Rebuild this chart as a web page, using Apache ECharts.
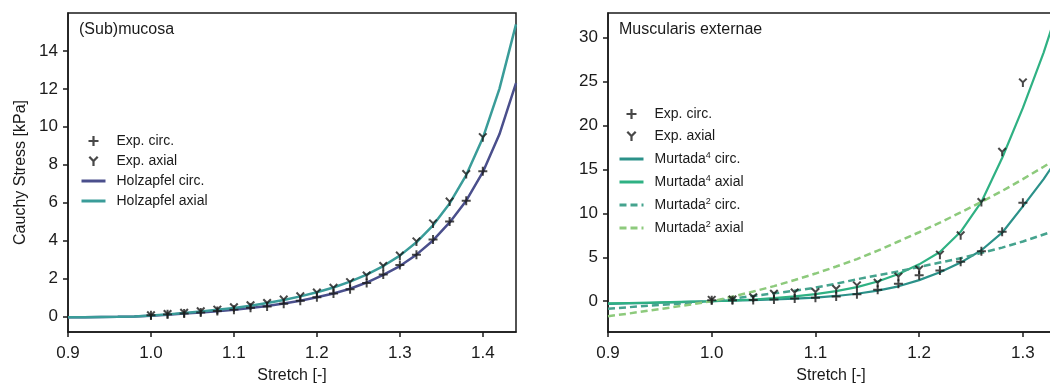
<!DOCTYPE html>
<html>
<head>
<meta charset="utf-8">
<script src="https://cdn.jsdelivr.net/npm/echarts@6/dist/echarts.min.js"></script>
<style>
  html, body { margin: 0; padding: 0; background: #fff; }
  #chart { width: 1050px; height: 384px; }
</style>
</head>
<body>
<div id="chart"></div>
<script>
// ---- data ----
// experimental stretch steps
const expStretchSub = [1.00, 1.02, 1.04, 1.06, 1.08, 1.10, 1.12, 1.14, 1.16, 1.18, 1.20,
  1.22, 1.24, 1.26, 1.28, 1.30, 1.32, 1.34, 1.36, 1.38, 1.40];
const subExpCirc = [0.05, 0.1, 0.15, 0.2, 0.28, 0.35, 0.45, 0.52, 0.66, 0.82, 1.0,
  1.2, 1.42, 1.75, 2.2, 2.7, 3.25, 4.05, 5.0, 6.1, 7.65];
const subExpAxial = [0.05, 0.12, 0.18, 0.26, 0.35, 0.47, 0.58, 0.7, 0.88, 1.05, 1.25,
  1.5, 1.8, 2.15, 2.65, 3.2, 3.95, 4.9, 6.05, 7.5, 9.45];

// model curves (left)
const fitStretchSub = [0.90, 0.92, 0.94, 0.96, 0.98, 1.00, 1.02, 1.04, 1.06, 1.08, 1.10, 1.12,
  1.14, 1.16, 1.18, 1.20, 1.22, 1.24, 1.26, 1.28, 1.30, 1.32, 1.34, 1.36, 1.38, 1.40, 1.42, 1.44];
const holzCirc = [-0.05, -0.05, -0.04, -0.03, -0.01, 0.03, 0.08, 0.14, 0.2, 0.27, 0.35, 0.44,
  0.54, 0.67, 0.82, 1.0, 1.2, 1.45, 1.78, 2.18, 2.65, 3.25, 4.0, 4.95, 6.1, 7.6, 9.6, 12.3];
const holzAxial = [-0.05, -0.05, -0.04, -0.03, -0.01, 0.04, 0.1, 0.17, 0.25, 0.34, 0.44, 0.56,
  0.7, 0.86, 1.05, 1.27, 1.52, 1.83, 2.2, 2.65, 3.2, 3.9, 4.8, 5.95, 7.45, 9.4, 12.0, 15.4];

// muscularis experiments
const expStretchMus = [1.00, 1.02, 1.04, 1.06, 1.08, 1.10, 1.12, 1.14, 1.16, 1.18, 1.20,
  1.22, 1.24, 1.26, 1.28, 1.30];
const musExpCirc = [0.1, 0.1, 0.15, 0.2, 0.3, 0.4, 0.55, 0.8, 1.3, 2.0, 2.95,
  3.5, 4.5, 5.7, 7.9, 11.2];
const musExpAxial = [0.15, 0.2, 0.45, 0.85, 1.0, 1.05, 1.4, 1.8, 2.1, 2.8, 3.6,
  5.3, 7.5, 11.3, 17.0, 24.9];

// model curves (right)
const fitStretchMus = [0.90, 0.92, 0.94, 0.96, 0.98, 1.00, 1.02, 1.04, 1.06, 1.08, 1.10, 1.12,
  1.14, 1.16, 1.18, 1.20, 1.22, 1.24, 1.26, 1.28, 1.30, 1.32, 1.34];
const murt4Circ = [-0.3, -0.25, -0.2, -0.14, -0.07, 0.0, 0.06, 0.12, 0.2, 0.3, 0.42, 0.6,
  0.85, 1.2, 1.7, 2.4, 3.3, 4.4, 5.8, 7.8, 10.8, 13.9, 17.4];
const murt4Axial = [-0.25, -0.2, -0.15, -0.1, -0.05, 0.0, 0.1, 0.2, 0.35, 0.55, 0.8, 1.15,
  1.6, 2.25, 3.1, 4.2, 5.6, 7.9, 11.3, 16.3, 22.0, 28.3, 35.5];
const murt2Circ = [-0.85, -0.68, -0.5, -0.33, -0.16, 0.0, 0.3, 0.6, 0.9, 1.2, 1.55, 2.0,
  2.5, 2.95, 3.4, 3.9, 4.4, 4.9, 5.5, 6.1, 6.8, 7.6, 8.4];
const murt2Axial = [-1.7, -1.4, -1.05, -0.72, -0.36, 0.0, 0.52, 1.1, 1.72, 2.42, 3.15, 3.95,
  4.8, 5.75, 6.8, 7.85, 8.95, 10.1, 11.3, 12.55, 13.9, 15.3, 16.8];

const subTicksX = [0.9, 1.0, 1.1, 1.2, 1.3, 1.4];
const subTicksY = [0, 2, 4, 6, 8, 10, 12, 14];
const musTicksX = [0.9, 1.0, 1.1, 1.2, 1.3];
const musTicksY = [0, 5, 10, 15, 20, 25, 30];

// ---- styling ----
const FONT = '"Liberation Sans", Arial, sans-serif';
const INK = '#1a1a1a';
const PLUS = 'path://M3.9,0H6.1V10H3.9Z M0,3.9H10V6.1H0Z';
const TRI = 'path://M0,1.6L1.6,0L5,3.4L8.4,0L10,1.6L6.1,5.5L6.1,10L3.9,10L3.9,5.5Z';

const pairs = (xs, ys) => xs.map((x, i) => [x, ys[i]]);
// legend entry for a model line: hide the marker, keep a thicker stroke
const lineItem = name => ({ name: name, itemStyle: { opacity: 0 }, lineStyle: { width: 3 } });

function xAxisFor(idx, min, max, ticks) {
  return {
    type: 'value', gridIndex: idx, min: min, max: max,
    name: 'Stretch [-]', nameLocation: 'middle', nameGap: 36,
    nameTextStyle: { fontFamily: FONT, fontSize: 16, color: INK },
    axisLine: { onZero: false, lineStyle: { color: INK, width: 1.5 } },
    axisTick: { length: 5, customValues: ticks, lineStyle: { color: INK, width: 1.5 } },
    axisLabel: { customValues: ticks, formatter: v => v.toFixed(1), fontFamily: FONT,
      fontSize: 17, color: INK, margin: 13 },
    splitLine: { show: false }
  };
}
function yAxisFor(idx, min, max, ticks, name) {
  return {
    type: 'value', gridIndex: idx, min: min, max: max,
    name: name, nameLocation: 'middle', nameGap: 39,
    nameTextStyle: { fontFamily: FONT, fontSize: 16, color: INK },
    axisLine: { show: true, onZero: false, lineStyle: { color: INK, width: 1.5 } },
    axisTick: { show: true, length: 5, customValues: ticks, lineStyle: { color: INK, width: 1.5 } },
    axisLabel: { customValues: ticks, fontFamily: FONT, fontSize: 17, color: INK, margin: 10 },
    splitLine: { show: false }
  };
}
function expSeries(name, idx, data, sym) {
  return {
    name: name, type: 'scatter', xAxisIndex: idx, yAxisIndex: idx,
    data: data, symbol: sym, symbolSize: 9, z: 5,
    itemStyle: { color: INK }
  };
}
function curve(name, idx, data, color, width, dashed) {
  return {
    name: name, type: 'line', xAxisIndex: idx, yAxisIndex: idx,
    data: data, symbol: 'none', showSymbol: false, smooth: false, z: 3,
    itemStyle: { color: color },
    lineStyle: { color: color, width: width, type: dashed ? [7, 4] : 'solid' }
  };
}

const chart = echarts.init(document.getElementById('chart'), null, { renderer: 'canvas' });
chart.setOption({
  animation: false,
  backgroundColor: '#fff',
  title: [
    { text: '(Sub)mucosa', left: 79, top: 22, padding: 0,
      textStyle: { fontFamily: FONT, fontSize: 16, fontWeight: 'normal', color: INK } },
    { text: 'Muscularis externae', left: 619, top: 22, padding: 0,
      textStyle: { fontFamily: FONT, fontSize: 16, fontWeight: 'normal', color: INK } }
  ],
  grid: [
    { left: 68, right: 534, top: 13, bottom: 52, outerBoundsMode: 'none',
      show: true, borderColor: INK, borderWidth: 1.5 },
    { left: 608, right: -4, top: 13, bottom: 52, outerBoundsMode: 'none',
      show: true, borderColor: INK, borderWidth: 1.5 }
  ],
  xAxis: [
    xAxisFor(0, 0.9, 1.44, subTicksX),
    xAxisFor(1, 0.9, 1.33, musTicksX)
  ],
  yAxis: [
    yAxisFor(0, -0.83, 16.0, subTicksY, 'Cauchy Stress [kPa]'),
    yAxisFor(1, -3.5, 32.8, musTicksY, '')
  ],
  legend: [
    {
      data: ['Exp. circ.', 'Exp. axial', lineItem('Holzapfel circ.'), lineItem('Holzapfel axial')],
      orient: 'vertical', left: 80, top: 134, padding: 0,
      itemWidth: 24, itemHeight: 10, itemGap: 6, selectedMode: false,
      textStyle: { fontFamily: FONT, fontSize: 14, color: INK, padding: [0, 0, 0, 6] }
    },
    {
      data: ['Exp. circ.', 'Exp. axial', lineItem('Murtada4 circ.'), lineItem('Murtada4 axial'),
        lineItem('Murtada2 circ.'), lineItem('Murtada2 axial')],
      orient: 'vertical', left: 618, top: 107, padding: 0,
      itemWidth: 24, itemHeight: 10, itemGap: 8, selectedMode: false,
      formatter: function (name) {
        const m = name.match(/^Murtada(\d) (.*)$/);
        if (!m) return '{n|' + name + '}';
        return '{n|Murtada}{s|' + m[1] + '}{n| ' + m[2] + '}';
      },
      textStyle: {
        fontFamily: FONT, fontSize: 14, color: INK, padding: [0, 0, 0, 6],
        rich: {
          n: { fontFamily: FONT, fontSize: 14, color: INK, lineHeight: 16 },
          s: { fontFamily: FONT, fontSize: 9, color: INK, lineHeight: 9, verticalAlign: 'top' }
        }
      }
    }
  ],
  series: [
    curve('Holzapfel circ.', 0, pairs(fitStretchSub, holzCirc), '#4a4f8c', 2.5, false),
    curve('Holzapfel axial', 0, pairs(fitStretchSub, holzAxial), '#3a9c99', 2.5, false),
    expSeries('Exp. circ.', 0, pairs(expStretchSub, subExpCirc), PLUS),
    expSeries('Exp. axial', 0, pairs(expStretchSub, subExpAxial), TRI),

    curve('Murtada4 circ.', 1, pairs(fitStretchMus, murt4Circ), '#2b9189', 2.2, false),
    curve('Murtada4 axial', 1, pairs(fitStretchMus, murt4Axial), '#2fb183', 2.2, false),
    curve('Murtada2 circ.', 1, pairs(fitStretchMus, murt2Circ), '#45a38e', 2.5, true),
    curve('Murtada2 axial', 1, pairs(fitStretchMus, murt2Axial), '#8dca7c', 2.5, true),
    expSeries('Exp. circ.', 1, pairs(expStretchMus, musExpCirc), PLUS),
    expSeries('Exp. axial', 1, pairs(expStretchMus, musExpAxial), TRI)
  ]
});
</script>
</body>
</html>
